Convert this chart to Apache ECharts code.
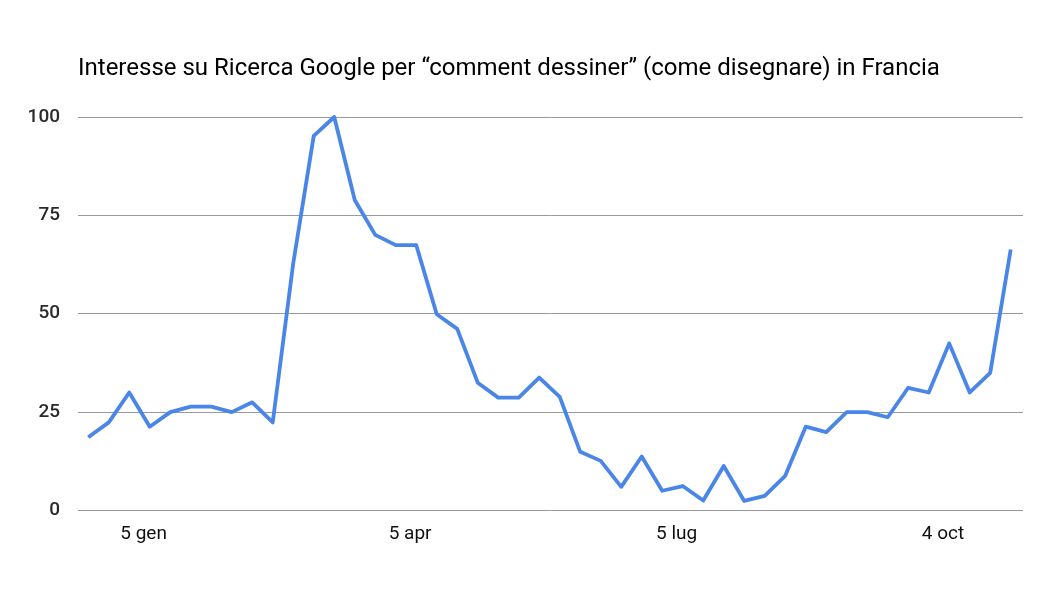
<!DOCTYPE html>
<html>
<head>
<meta charset="utf-8">
<script src="https://cdn.jsdelivr.net/npm/echarts@6/dist/echarts.min.js"></script>
<style>
html,body{margin:0;padding:0;background:#fff;}
#chart{width:1044px;height:600px;}
</style>
</head>
<body>
<div id="chart"></div>
<script>
// Weekly interest values (index = week number)
const values = [18.5, 22.3, 29.9, 21.2, 24.9, 26.3, 26.3, 24.9, 27.4, 22.3,
  62.8, 95.2, 100, 78.9, 70, 67.4, 67.4, 49.8, 46.1, 32.4,
  28.6, 28.6, 33.7, 28.8, 14.8, 12.5, 5.9, 13.6, 4.9, 6.1,
  2.4, 11.2, 2.3, 3.6, 8.7, 21.2, 19.8, 24.9, 24.9, 23.6,
  31.1, 29.9, 42.4, 29.9, 34.9, 66.3];
const tickLabels = ['5 gen', '5 apr', '5 lug', '4 oct'];
const tickWeeks = [2.7, 15.7, 28.7, 41.7];
const yTicks = [0, 25, 50, 75, 100];

const seriesData = values.map((v, i) => [i, v]);

const chart = echarts.init(document.getElementById('chart'), null, {renderer: 'canvas'});
chart.setOption({
  animation: false,
  backgroundColor: '#ffffff',
  title: {
    text: 'Interesse su Ricerca Google per \u201ccomment dessiner\u201d (come disegnare) in Francia',
    left: 78,
    top: 57,
    padding: 0,
    textStyle: {fontFamily: 'Roboto', fontSize: 24, fontWeight: 'normal', color: '#000000'}
  },
  grid: {left: 78, right: 21, top: 117, bottom: 90, containLabel: false},
  xAxis: {
    type: 'value',
    min: -0.5,
    max: 45.6,
    axisLine: {show: false},
    axisTick: {show: false},
    splitLine: {show: false},
    axisLabel: {
      customValues: tickWeeks,
      formatter: function (val) {
        const k = tickWeeks.indexOf(val);
        return k >= 0 ? tickLabels[k] : '';
      },
      margin: 15,
      fontFamily: 'Roboto',
      fontSize: 19,
      color: '#111111'
    }
  },
  yAxis: {
    type: 'value',
    min: yTicks[0],
    max: yTicks[yTicks.length - 1],
    interval: 25,
    axisLine: {show: false},
    axisTick: {show: false},
    splitLine: {lineStyle: {color: '#9a9a9a', width: 1}},
    axisLabel: {
      margin: 18,
      fontFamily: 'Roboto',
      fontSize: 19,
      fontWeight: 500,
      color: '#2a2a2a'
    }
  },
  series: [{
    type: 'line',
    data: seriesData,
    showSymbol: false,
    lineStyle: {color: '#4a86e8', width: 3.8, join: 'round'},
    itemStyle: {color: '#4a86e8'}
  }]
});
</script>
</body>
</html>
